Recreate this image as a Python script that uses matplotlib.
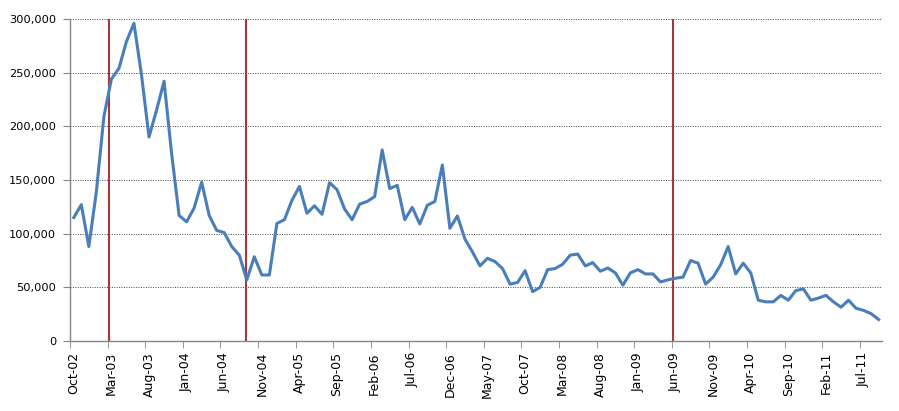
import pandas as pd
import matplotlib
matplotlib.use("Agg")
import matplotlib.pyplot as plt
from matplotlib.ticker import FuncFormatter, FixedLocator

# monthly values, Oct-02 .. Sep-11
months = pd.date_range("2002-10-01", periods=108, freq="MS")
values = [
    115000, 127000, 88000, 139000, 209000, 244000, 254000, 279000, 296000, 248000,
    190000, 215000, 242000, 175000, 117000, 111000, 124000, 148000, 117000, 103000,
    101000, 88000, 80000, 57000, 78500, 61500, 61500, 109500, 113000, 131000,
    144000, 119000, 126000, 118000, 147500, 141000, 123000, 113000, 127500, 130000,
    134500, 178000, 142000, 145000, 113000, 124500, 109000, 126500, 130000, 164000,
    105000, 116500, 95000, 83000, 70000, 77000, 74000, 67500, 53000, 54500,
    65500, 46000, 50000, 66500, 67500, 71500, 80000, 81000, 70000, 73000,
    65000, 68000, 63500, 52000, 63500, 66500, 62500, 62500, 55000, 57000,
    58500, 59500, 75000, 72500, 53000, 59500, 71000, 88000, 62500, 72500,
    63500, 38000, 36500, 36500, 42500, 38000, 47000, 48500, 38000, 40000,
    42500, 36500, 31500, 38000, 30500, 28500, 25500, 20000,
]
tick_labels = [m.strftime("%b-%y") for m in months]

# vertical markers (category position)
event_x = [4.65, 22.83, 79.65]

plt.rcParams["font.family"] = ["DejaVu Sans"]

fig = plt.figure(figsize=(8.99, 4.11), dpi=100)
ax = fig.add_axes([0.0779, 0.1703, 0.9036, 0.7835])

x = list(range(len(values)))
ax.plot(x, values, color="#4A7EBB", linewidth=2.2, solid_joinstyle="round", zorder=3)

for ex in event_x:
    ax.axvline(ex, color="#A33A3A", linewidth=1.5, zorder=2)

ax.set_xlim(-0.5, len(values) - 0.5)
ax.set_ylim(0, 300000)
ax.set_yticks(range(0, 300001, 50000))
ax.yaxis.set_major_formatter(FuncFormatter(lambda v, p: f"{int(v):,}"))

label_pos = x[::5]
ax.set_xticks(label_pos)
ax.set_xticklabels(tick_labels[::5], rotation=90)
ax.xaxis.set_minor_locator(FixedLocator([p - 0.5 for p in label_pos]))
ax.tick_params(axis="x", which="major", length=0, pad=8, labelsize=9, colors="#000000")
ax.tick_params(axis="x", which="minor", length=5, color="#868686", direction="out")
ax.tick_params(axis="y", length=5, color="#868686", labelsize=8.2, pad=5)

ax.grid(axis="y", linestyle=(0, (1, 1.5)), color="#444444", linewidth=0.7)
ax.set_axisbelow(True)

for side in ["top", "right"]:
    ax.spines[side].set_visible(False)
for side in ["left", "bottom"]:
    ax.spines[side].set_color("#868686")
    ax.spines[side].set_linewidth(1.0)

fig.savefig("out.png", dpi=100)
